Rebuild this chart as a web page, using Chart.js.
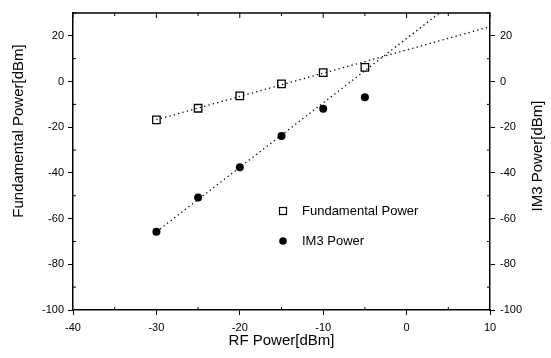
<!DOCTYPE html>
<html>
<head>
<meta charset="utf-8">
<script src="https://cdn.jsdelivr.net/npm/chart.js@4.4.1/dist/chart.umd.min.js"></script>
<style>
  html, body { margin: 0; padding: 0; background: #fff; }
  canvas { display: block; }
</style>
</head>
<body>
<canvas id="chart" width="551" height="358"></canvas>
<script>
// measured points
const rfPower = [-30, -25, -20, -15, -10, -5];
const fundamentalPower = [-16.8, -11.7, -6.3, -1.0, 3.9, 6.2];
const im3Power = [-65.7, -50.8, -37.5, -23.8, -11.9, -6.9];

// dotted fit lines
const fundFitX = [-30, 10];
const fundFitY = [-16.7, 24];
const im3FitX = [-30, 5];
const im3FitY = [-65.8, 33];

const xTitle = 'RF Power[dBm]';
const yTitle = 'Fundamental Power[dBm]';
const y2Title = 'IM3 Power[dBm]';
const legendLabels = ['Fundamental Power', 'IM3 Power'];

const FONT = "'Liberation Sans', Arial, sans-serif";

function toPoints(xs, ys) {
    return xs.map((x, i) => ({ x: x, y: ys[i] }));
}

// minor ticks, top border, titles and legend
const extras = {
    id: 'extras',
    afterDraw(chart) {
        const { ctx, chartArea: a, scales } = chart;
        const x = scales.x, y = scales.y;
        ctx.save();
        ctx.strokeStyle = '#000';
        ctx.lineWidth = 1;
        ctx.beginPath();

        const xt = x.ticks.map(t => t.value);
        for (let i = 0; i < xt.length; i++) {
            const px = x.getPixelForValue(xt[i]);
            ctx.moveTo(px, a.top); ctx.lineTo(px, a.top + 5);
            if (i < xt.length - 1) {
                const mx = x.getPixelForValue((xt[i] + xt[i + 1]) / 2);
                ctx.moveTo(mx, a.bottom); ctx.lineTo(mx, a.bottom - 3);
                ctx.moveTo(mx, a.top); ctx.lineTo(mx, a.top + 3);
            }
        }
        const yt = y.ticks.map(t => t.value);
        const ymid = [];
        for (let i = 0; i < yt.length - 1; i++) ymid.push((yt[i] + yt[i + 1]) / 2);
        ymid.push(yt[yt.length - 1] + 10);
        ymid.forEach(v => {
            if (v > y.max) return;
            const py = y.getPixelForValue(v);
            ctx.moveTo(a.left, py); ctx.lineTo(a.left + 3, py);
            ctx.moveTo(a.right, py); ctx.lineTo(a.right - 3, py);
        });
        ctx.stroke();

        ctx.lineWidth = 1.5;
        ctx.beginPath();
        ctx.moveTo(a.left, a.top); ctx.lineTo(a.right, a.top);
        ctx.stroke();

        // axis titles, both read bottom-to-top
        ctx.fillStyle = '#000';
        ctx.font = '15px ' + FONT;
        ctx.textAlign = 'center';
        ctx.textBaseline = 'middle';
        ctx.save();
        ctx.translate(19, 131);
        ctx.rotate(-Math.PI / 2);
        ctx.fillText(yTitle, 0, 0);
        ctx.restore();
        ctx.save();
        ctx.translate(538, 156);
        ctx.rotate(-Math.PI / 2);
        ctx.fillText(y2Title, 0, 0);
        ctx.restore();

        // legend
        ctx.font = '13px ' + FONT;
        ctx.textAlign = 'left';
        ctx.lineWidth = 1.2;
        ctx.strokeRect(279.5, 207.5, 7, 7);
        ctx.beginPath();
        ctx.arc(283, 241, 3.8, 0, Math.PI * 2);
        ctx.fill();
        ctx.fillText(legendLabels[0], 302, 211.5);
        ctx.fillText(legendLabels[1], 302, 241.5);
        ctx.restore();
    }
};

const dotted = {
    showLine: true,
    borderColor: '#000',
    borderWidth: 1.3,
    borderDash: [1.3, 3.2],
    pointRadius: 0,
    fill: false
};

new Chart(document.getElementById('chart'), {
    type: 'scatter',
    data: {
        datasets: [
            Object.assign({ data: toPoints(fundFitX, fundFitY) }, dotted),
            Object.assign({ data: toPoints(im3FitX, im3FitY) }, dotted),
            {
                label: legendLabels[0],
                data: toPoints(rfPower, fundamentalPower),
                pointStyle: 'rect',
                pointRadius: 5.3,
                backgroundColor: '#fff',
                borderColor: '#000',
                borderWidth: 1.3
            },
            {
                label: legendLabels[1],
                data: toPoints(rfPower, im3Power),
                pointStyle: 'circle',
                pointRadius: 4,
                backgroundColor: '#000',
                borderColor: '#000',
                borderWidth: 0
            }
        ]
    },
    options: {
        responsive: false,
        animation: false,
        layout: { padding: { top: 13, left: 0, right: 0, bottom: 0 } },
        plugins: {
            legend: { display: false },
            tooltip: { enabled: false }
        },
        scales: {
            x: {
                type: 'linear',
                min: -40,
                max: 10,
                ticks: { stepSize: 10, color: '#000', font: { family: FONT, size: 11 }, padding: 6 },
                grid: { drawOnChartArea: false, color: '#000', tickLength: 5, tickWidth: 1 },
                border: { color: '#000', width: 1.5 },
                title: { display: true, text: xTitle, color: '#000', font: { family: FONT, size: 15 }, padding: { bottom: 8 } },
                afterFit: s => { s.height = 48; }
            },
            y: {
                type: 'linear',
                position: 'left',
                min: -100,
                max: 30,
                ticks: { stepSize: 20, includeBounds: false, color: '#000', font: { family: FONT, size: 11 }, padding: 4 },
                grid: { drawOnChartArea: false, color: '#000', tickLength: 5, tickWidth: 1 },
                border: { color: '#000', width: 1.5 },
                afterFit: s => { s.width = 73; }
            },
            y2: {
                type: 'linear',
                position: 'right',
                min: -100,
                max: 30,
                ticks: { stepSize: 20, includeBounds: false, color: '#000', font: { family: FONT, size: 11 }, padding: 5 },
                grid: { drawOnChartArea: false, color: '#000', tickLength: 5, tickWidth: 1 },
                border: { color: '#000', width: 1.5 },
                afterFit: s => { s.width = 61; }
            }
        }
    },
    plugins: [extras]
});
</script>
</body>
</html>
